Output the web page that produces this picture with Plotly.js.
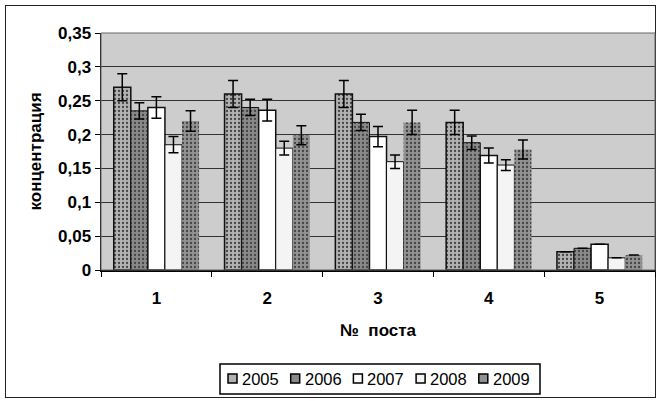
<!DOCTYPE html>
<html><head><meta charset="utf-8">
<script src="https://cdn.plot.ly/plotly-3.0.1.min.js"></script>
<style>
body{margin:0;background:#fff;}
#frame{position:absolute;left:5px;top:5px;width:651px;height:393px;border:1.5px solid #222;box-sizing:border-box;}
#chart{position:absolute;left:0;top:0;width:659px;height:401px;}
</style></head>
<body>
<div id="frame"></div>
<div id="chart"></div>
<script>
const posts = ['1','2','3','4','5'];
const years = ['2005','2006','2007','2008','2009'];
const v2005 = [0.27, 0.26, 0.26, 0.218, 0.027];
const e2005 = [0.02, 0.02, 0.02, 0.018, 0];
const v2006 = [0.235, 0.24, 0.218, 0.188, 0.032];
const e2006 = [0.012, 0.012, 0.012, 0.01, 0];
const v2007 = [0.24, 0.236, 0.197, 0.169, 0.038];
const e2007 = [0.016, 0.016, 0.015, 0.011, 0];
const v2008 = [0.185, 0.18, 0.16, 0.155, 0.018];
const e2008 = [0.012, 0.01, 0.01, 0.008, 0];
const v2009 = [0.22, 0.199, 0.218, 0.178, 0.022];
const e2009 = [0.015, 0.014, 0.018, 0.014, 0];

const vals = [v2005, v2006, v2007, v2008, v2009];
const errs = [e2005, e2006, e2007, e2008, e2009];
const fills = ['#b2b2b2', '#8a8a8a', '#ffffff', '#f4f4f4', '#929292'];
const pats = ['.', '.', '', '', '.'];
const lines = [1.5, 1, 1.5, 1, 0];

const traces = years.map((y, i) => ({
  type: 'bar', name: y, x: posts, y: vals[i],
  marker: {
    color: fills[i],
    line: {color: '#111', width: lines[i]},
    pattern: pats[i] ? {shape: pats[i], size: 4, solidity: 0.25, fgcolor: '#444', bgcolor: fills[i]} : {shape: ''}
  },
  error_y: {type: 'data', array: errs[i], visible: true, color: '#000', thickness: 1.5, width: 5}
}));

const fam = 'Liberation Sans, Arial, sans-serif';
const font = {family: fam, size: 17, color: '#000', weight: 'bold'};

// plot area geometry (px) used to place the hand-built legend box
const W = 659, H = 401, ML = 101, MR = 4, MT = 33, MB = 131;
const pw = W - ML - MR, ph = H - MT - MB;
const px = x => (x - ML) / pw;
const py = y => (H - MB - y) / ph;

const shapes = [
  {type: 'rect', xref: 'paper', yref: 'paper', x0: 0, x1: 1, y0: 0, y1: 1,
   line: {color: '#666', width: 1}, layer: 'above'},
  {type: 'rect', xref: 'paper', yref: 'paper', x0: px(220), x1: px(540), y0: py(364), y1: py(394),
   line: {color: '#000', width: 1.5}, fillcolor: '#fff'}
];
const annotations = [];
years.forEach((y, i) => {
  const sx = 228 + i * 62.7;
  shapes.push({type: 'rect', xref: 'paper', yref: 'paper', x0: px(sx), x1: px(sx + 9), y0: py(383), y1: py(374),
    line: {color: '#000', width: 1.5}, fillcolor: fills[i]});
  annotations.push({xref: 'paper', yref: 'paper', x: px(sx + 12), y: py(379), xanchor: 'left', yanchor: 'middle',
    text: y, showarrow: false, font: {family: fam, size: 16.5, color: '#000'}});
});

const layout = {
  width: W, height: H,
  margin: {l: ML, r: MR, t: MT, b: MB},
  paper_bgcolor: 'rgba(0,0,0,0)',
  plot_bgcolor: '#cdcdcd',
  separators: ', ',
  barmode: 'group', bargap: 0.23, bargroupgap: 0,
  font: {family: fam, size: 16, color: '#000'},
  showlegend: false,
  xaxis: {type: 'category', showline: true, linecolor: '#000', linewidth: 1.5, mirror: false,
    ticks: 'outside', tickson: 'boundaries', ticklen: 5, tickcolor: '#000',
    tickfont: font, ticklabelstandoff: 12,
    title: {text: '№  поста', font: font, standoff: 17}},
  yaxis: {range: [0, 0.35], dtick: 0.05, showline: true, linecolor: '#000', linewidth: 1.5,
    ticks: 'outside', ticklen: 5, tickcolor: '#000',
    gridcolor: '#333', gridwidth: 1, zeroline: false,
    tickfont: font,
    title: {text: 'концентрация', font: font, standoff: 12}},
  shapes: shapes,
  annotations: annotations
};

Plotly.newPlot('chart', traces, layout, {displayModeBar: false, staticPlot: true});
</script>
</body></html>
